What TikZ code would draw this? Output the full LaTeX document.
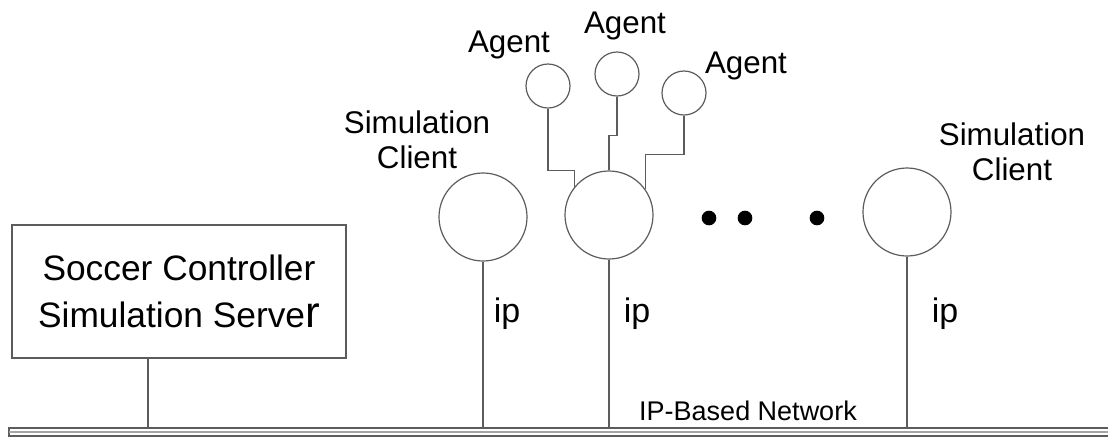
\documentclass[tikz,border=0pt]{standalone}
\usepackage{fontspec}
\setmainfont{Liberation Sans}
\usepackage{tikz}
\usetikzlibrary{positioning}
\definecolor{wire}{HTML}{5C5C5C}

\begin{document}
\begin{tikzpicture}[x=0.75pt, y=-0.75pt,
client/.style={circle, draw=wire, line width=0.9pt, minimum size=66pt, inner sep=0pt},
agent/.style={circle, draw=wire, line width=0.9pt, minimum size=33pt, inner sep=0pt},
dot/.style={circle, fill=black, minimum size=11pt, inner sep=0pt},
lbl/.style={font=\fontsize{23.5}{26.25}\selectfont, align=center, inner sep=0pt},
iplbl/.style={font=\fontsize{25.5}{28}\selectfont, anchor=base, inner sep=0pt},
link/.style={draw=wire, line width=0.9pt},
]
\useasboundingbox (0,0) rectangle (1108,437);

%Server
\node[draw=wire, line width=0.9pt, minimum width=250.5pt, minimum height=99.75pt, inner sep=0pt,
      font=\fontsize{26.5}{35.25}\selectfont, align=center] (server) at (179,291.5)
      {Soccer Controller\\Simulation Serve{\fontsize{33}{35}\selectfont r}};

%Clients
\node[client] (c1) at (483,217) {};
\node[client] (c2) at (609,215) {};
\node[client] (c3) at (907,212) {};
\node[lbl] (c1lbl) at (417,140) {Simulation\\Client};
\node[lbl] (c3lbl) at (1012,152) {Simulation\\Client};

%Agents
\node[agent] (a1) at (548,86) {};
\node[agent] (a2) at (617,74) {};
\node[agent] (a3) at (684,93) {};
\node[lbl, anchor=base] (a1lbl) at (509,52) {Agent};
\node[lbl, anchor=base] (a2lbl) at (625,33) {Agent};
\node[lbl, anchor=base] (a3lbl) at (746,73) {Agent};

%Dots
\node[dot] (d1) at (709,218) {};
\node[dot] (d2) at (745,218) {};
\node[dot] (d3) at (817,218) {};

%Network
\draw[wire, line width=0.9pt] (9,428) rectangle (1120,436);
\draw[wire!55, line width=0.9pt] (9,432) -- (1120,432);
\coordinate (bus) at (9,428);
\coordinate (tap0) at (148,428);
\node[font=\fontsize{20.25}{24}\selectfont, anchor=base, inner sep=0pt] (net) at (748,420) {IP-Based Network};

%Connections to network
\draw[link] (tap0 |- server.south) -- (tap0);
\draw[link] (c1) -- (c1 |- bus);
\draw[link] (c2) -- (c2 |- bus);
\draw[link] (c3) -- (c3 |- bus);
\node[iplbl] (ip1) at (507,322) {ip};
\node[iplbl] (ip2) at (637,322) {ip};
\node[iplbl] (ip3) at (945,322) {ip};

%Agent connections
\draw[link] (a1.south) -- ++(0,62) -| (c2.141);
\draw[link] (a2.south) -- ++(0,39) -| (c2.north);
\draw[link] (a3.south) -- ++(0,39) -| (c2.35);
\end{tikzpicture}
\end{document}
